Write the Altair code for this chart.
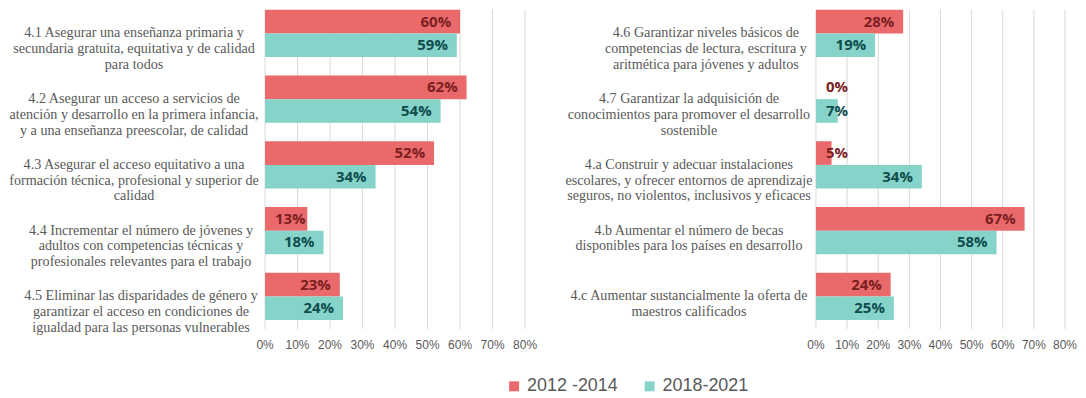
import altair as alt
import pandas as pd

series = ["2012 -2014", "2018-2021"]

left_cats = [
    "4.1 Asegurar una enseñanza primaria y|secundaria gratuita, equitativa y de calidad|para todos",
    "4.2 Asegurar un acceso a servicios de|atención y desarrollo en la primera infancia,|y a una enseñanza preescolar, de calidad",
    "4.3 Asegurar el acceso equitativo a una|formación técnica, profesional y superior de|calidad",
    "4.4 Incrementar el número de jóvenes y|adultos con competencias técnicas y|profesionales relevantes para el trabajo",
    "4.5 Eliminar las disparidades de género y|garantizar el acceso en condiciones de|igualdad para las personas vulnerables",
]
left_2012 = [0.60, 0.62, 0.52, 0.13, 0.23]
left_2018 = [0.59, 0.54, 0.34, 0.18, 0.24]

right_cats = [
    "4.6 Garantizar niveles básicos de|competencias de lectura, escritura y|aritmética para jóvenes y adultos",
    "4.7 Garantizar la adquisición de|conocimientos para promover el desarrollo|sostenible",
    "4.a Construir y adecuar instalaciones|escolares,  y ofrecer entornos de aprendizaje|seguros, no violentos, inclusivos y eficaces",
    "4.b Aumentar el número de becas|disponibles para los países en desarrollo",
    "4.c Aumentar sustancialmente la oferta de|maestros calificados",
]
right_2012 = [0.28, 0.00, 0.05, 0.67, 0.24]
right_2018 = [0.19, 0.07, 0.34, 0.58, 0.25]

tick_values = [0.0, 0.1, 0.2, 0.3, 0.4, 0.5, 0.6, 0.7, 0.8]
tick_labels = ["0%", "10%", "20%", "30%", "40%", "50%", "60%", "70%", "80%"]

RED = "#EA6A6B"
TEAL = "#86D3CA"
GRID = "#D9D9D9"
GRAY = "#595959"
SERIF = "Liberation Serif"
FIT = 0.15  # below this the label does not fit inside the bar
PLOT_H = 311.5


def frame(cats, a, b):
    rows = []
    for c, v1, v2 in zip(cats, a, b):
        rows.append({"cat": c, "series": series[0], "value": v1})
        rows.append({"cat": c, "series": series[1], "value": v2})
    return pd.DataFrame(rows)


ticks_df = pd.DataFrame({"t": tick_values, "lab": tick_labels})


def panel(df, cats, width, label_pad):
    xscale = alt.Scale(domain=[0, 0.8], nice=False)
    y_enc = alt.Y(
        "cat:N", sort=cats, title=None,
        scale=alt.Scale(paddingInner=0.2803, paddingOuter=0),
        axis=alt.Axis(
            labelExpr="split(datum.label, '|')", labelAlign="center",
            labelBaseline="middle", labelPadding=label_pad,
            labelFont=SERIF, labelFontSize=14.2,
            labelColor=GRAY, labelLineHeight=15.8, ticks=False,
            domain=False, labelLimit=0, grid=False,
        ),
    )
    base = alt.Chart(df).encode(
        y=y_enc,
        yOffset=alt.YOffset("series:N", sort=series,
                            scale=alt.Scale(paddingInner=0, paddingOuter=0)),
    )
    grid = alt.Chart(ticks_df).mark_rule(color=GRID, strokeWidth=1).encode(
        x=alt.X("t:Q", scale=xscale, axis=None),
        y=alt.value(0),
        y2=alt.value(PLOT_H + 9),
    )
    tick_text = alt.Chart(ticks_df).mark_text(
        font="Liberation Sans", fontSize=12, color=GRAY, baseline="middle"
    ).encode(
        x=alt.X("t:Q", scale=xscale, axis=None),
        y=alt.value(PLOT_H + 25.5),
        text="lab:N",
    )
    bars = base.mark_bar().encode(
        x=alt.X("value:Q", scale=xscale, axis=None),
        color=alt.Color(
            "series:N", sort=series,
            scale=alt.Scale(domain=series, range=[RED, TEAL]),
            legend=alt.Legend(
                title=None, orient="none", legendX=241, legendY=369,
                direction="horizontal", symbolType="square", symbolSize=100,
                symbolStrokeWidth=0, labelFont="Liberation Sans",
                labelFontSize=18, labelColor=GRAY, labelOffset=4,
                columnPadding=22, padding=0,
            ),
        ),
    )
    text_color = alt.condition(alt.datum.series == series[0],
                               alt.value("#7A1E1F"), alt.value("#0E4C4D"))
    inside = base.transform_filter(alt.datum.value >= FIT).mark_text(
        align="right", dx=-9, baseline="middle", font="Open Sans",
        fontWeight="bold", fontSize=15,
    ).encode(
        x=alt.X("value:Q", scale=xscale, axis=None),
        text=alt.Text("value:Q", format=".0%"),
        color=text_color,
    )
    small = base.transform_filter(alt.datum.value < FIT).transform_calculate(
        zero="0"
    ).mark_text(
        align="left", dx=10, baseline="middle", font="Open Sans",
        fontWeight="bold", fontSize=15,
    ).encode(
        x=alt.X("zero:Q", scale=xscale, axis=None),
        text=alt.Text("value:Q", format=".0%"),
        color=text_color,
    )
    return alt.layer(grid, bars, inside, small, tick_text).properties(
        width=width, height=PLOT_H
    )


left_pad = {
    "condition": {
        "test": "indexof(datum.value, '4.4') == 0 || indexof(datum.value, '4.5') == 0",
        "value": 125,
    },
    "value": 132,
}
right_pad = {
    "condition": {"test": "indexof(datum.value, '4.6') == 0", "value": 111},
    "value": 128,
}

left = panel(frame(left_cats, left_2012, left_2018), left_cats, 261, left_pad)
right = panel(frame(right_cats, right_2012, right_2018), right_cats, 250, right_pad)

chart = alt.hconcat(left, right, spacing=292, bounds="flush").properties(
    padding={"left": 0, "top": 0, "right": 0, "bottom": 0}
).configure_view(stroke=None)

chart.save("out.html", embed_options={"renderer": "svg", "actions": False})
